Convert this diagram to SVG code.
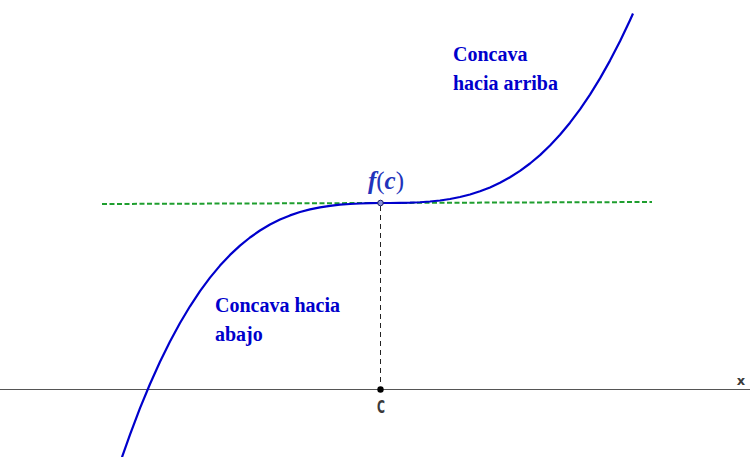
<svg xmlns="http://www.w3.org/2000/svg" width="750" height="457" viewBox="0 0 750 457">
<style>
.lbl{font-family:"Liberation Serif","Times New Roman",serif;font-weight:bold;font-size:20px;fill:#0000cc}
.ax{font-family:"DejaVu Sans","Liberation Sans",sans-serif;font-weight:bold;fill:#3a3a3a}
</style>
<rect width="750" height="457" fill="#ffffff"/>
<g id="axis">
<line x1="0" y1="389.5" x2="750" y2="389.5" stroke="#555555" stroke-width="1"/>
<text class="ax" x="741" y="385" font-size="13" text-anchor="middle">x</text>
</g>
<g id="connectors">
<line id="tangent" x1="102" y1="204" x2="652" y2="202" stroke="#1e9e2e" stroke-width="2" stroke-dasharray="5 2.5"/>
<line id="drop" x1="380.5" y1="206" x2="380.5" y2="386" stroke="#222222" stroke-width="1" stroke-dasharray="5 4"/>
</g>
<g id="curve">
<path fill="none" stroke="#0000cc" stroke-width="2.2" stroke-linejoin="round" d="M122,457.2 L130,434.6 L140,408.2 L150,384 L160,361.8 L170,341.5 L180,323 L190,306.3 L200,291.2 L210,277.6 L220,265.6 L230,254.9 L240,245.6 L250,237.5 L260,230.5 L270,224.5 L280,219.5 L290,215.4 L300,212 L310,209.4 L320,207.3 L330,205.8 L340,204.7 L350,204 L360,203.5 L370,203.2 L380,203 L390,203 L400,202.9 L410,202.7 L420,202.25 L430,201.5 L440,200.5 L450,199 L460,197 L470,194.5 L480,191.3 L490,187.4 L500,182.8 L510,177.3 L520,170.9 L530,163.5 L540,155.1 L550,145.5 L560,134.8 L570,122.7 L580,109.4 L590,94.6 L600,78.4 L610,60.6 L620,41.3 L630,20.2 L633,13.5"/>
</g>
<g id="point-fc">
<circle cx="380.5" cy="203" r="2.8" fill="#8890d8" stroke="#1a1a66" stroke-width="1"/>
<text x="386" y="189" text-anchor="middle" font-family="'Liberation Serif','Times New Roman',serif" font-size="25" fill="#2233bb"><tspan font-style="italic" font-weight="bold">f</tspan>(<tspan font-style="italic" font-weight="bold">c</tspan>)</text>
</g>
<g id="point-c">
<circle cx="380.5" cy="389.5" r="3.2" fill="#000000"/>
<text class="ax" x="381" y="413" font-size="17" text-anchor="middle" textLength="8" lengthAdjust="spacingAndGlyphs">C</text>
</g>
<g id="label-up">
<text class="lbl" x="453" y="60.5">Concava</text>
<text class="lbl" x="453" y="89.5">hacia arriba</text>
</g>
<g id="label-down">
<text class="lbl" x="215" y="311.5">Concava hacia</text>
<text class="lbl" x="215" y="340.5">abajo</text>
</g>
</svg>
